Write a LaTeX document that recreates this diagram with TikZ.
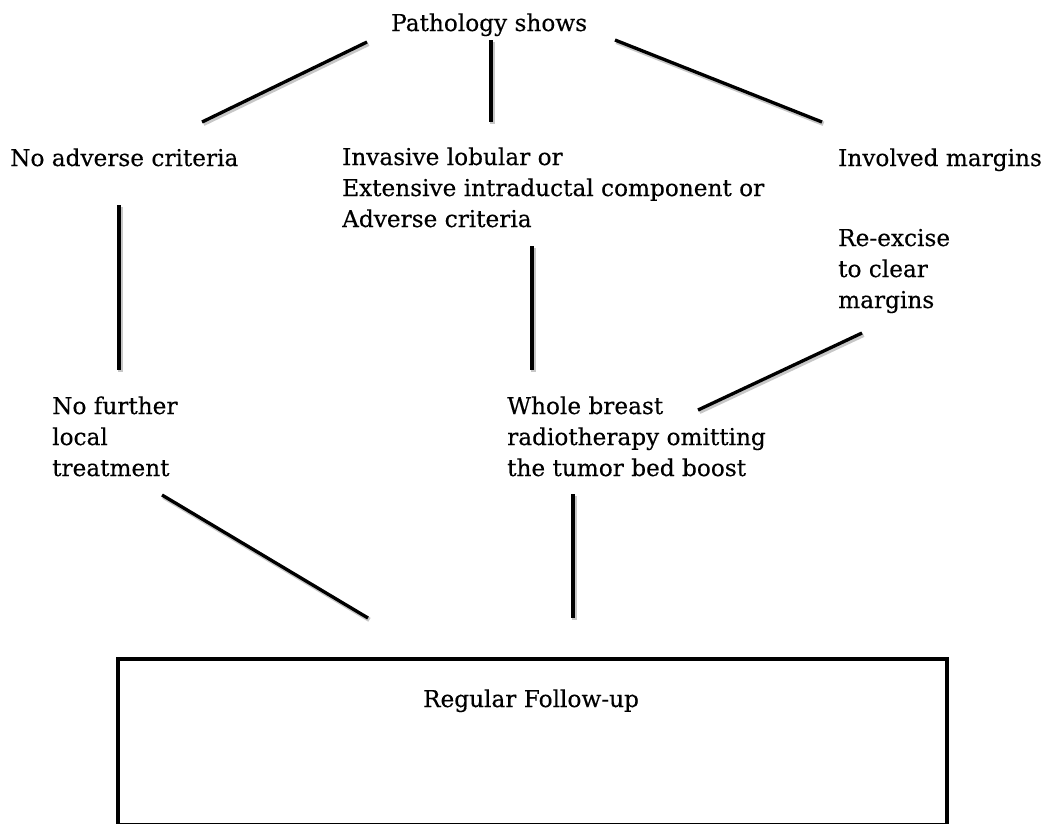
\documentclass[tikz,border=0pt]{standalone}
\usepackage{fontspec}
\setmainfont{DejaVu Serif}[FakeBold=0.35]
\begin{document}
\begin{tikzpicture}[x=1pt,y=-1pt,
  lbl/.style={inner sep=0pt, align=left, anchor=base west, font=\fontsize{23.2}{31}\selectfont},
  conn/.style={line width=3.3pt, black, preaction={draw=black!22, line width=4.5pt, transform canvas={xshift=1.5pt, yshift=-1.8pt}}},
  box/.style={draw=black, line width=4pt}]
\useasboundingbox (0,0) rectangle (1051,823);
% texts (anchored at the baseline of the last line)
\node[lbl] (path) at (391,31) {Pathology shows};
\node[lbl] (noadv) at (10,166) {No adverse criteria};
\node[lbl] (inv) at (342,227) {Invasive lobular or\\Extensive intraductal component or\\Adverse criteria};
\node[lbl] (invm) at (838,166) {Involved margins};
\node[lbl] (reex) at (838,308) {Re-excise\\to clear\\margins};
\node[lbl] (nofur) at (52,476) {No further\\local\\treatment};
\node[lbl] (whole) at (507,476) {Whole breast\\radiotherapy omitting\\the tumor bed boost};
% box
\draw[box] (118,659) rectangle (947,825);
\node[lbl, anchor=base] (reg) at (531,707) {Regular Follow-up};
% connector ends
\coordinate (a1) at (367,42); \coordinate (a2) at (202,122);
\coordinate (b1) at (491,40); \coordinate (b2) at (491,122);
\coordinate (c1) at (615,40); \coordinate (c2) at (822,122);
\coordinate (d1) at (119,205); \coordinate (d2) at (119,370);
\coordinate (e1) at (532,246); \coordinate (e2) at (532,370);
\coordinate (f1) at (862,333); \coordinate (f2) at (698,410);
\coordinate (g1) at (162,495); \coordinate (g2) at (368,618);
\coordinate (h1) at (573,494); \coordinate (h2) at (573,618);
\draw[conn] (a1) -- (a2);
\draw[conn] (b1) -- (b2);
\draw[conn] (c1) -- (c2);
\draw[conn] (d1) -- (d2);
\draw[conn] (e1) -- (e2);
\draw[conn] (f1) -- (f2);
\draw[conn] (g1) -- (g2);
\draw[conn] (h1) -- (h2);
\end{tikzpicture}
\end{document}
